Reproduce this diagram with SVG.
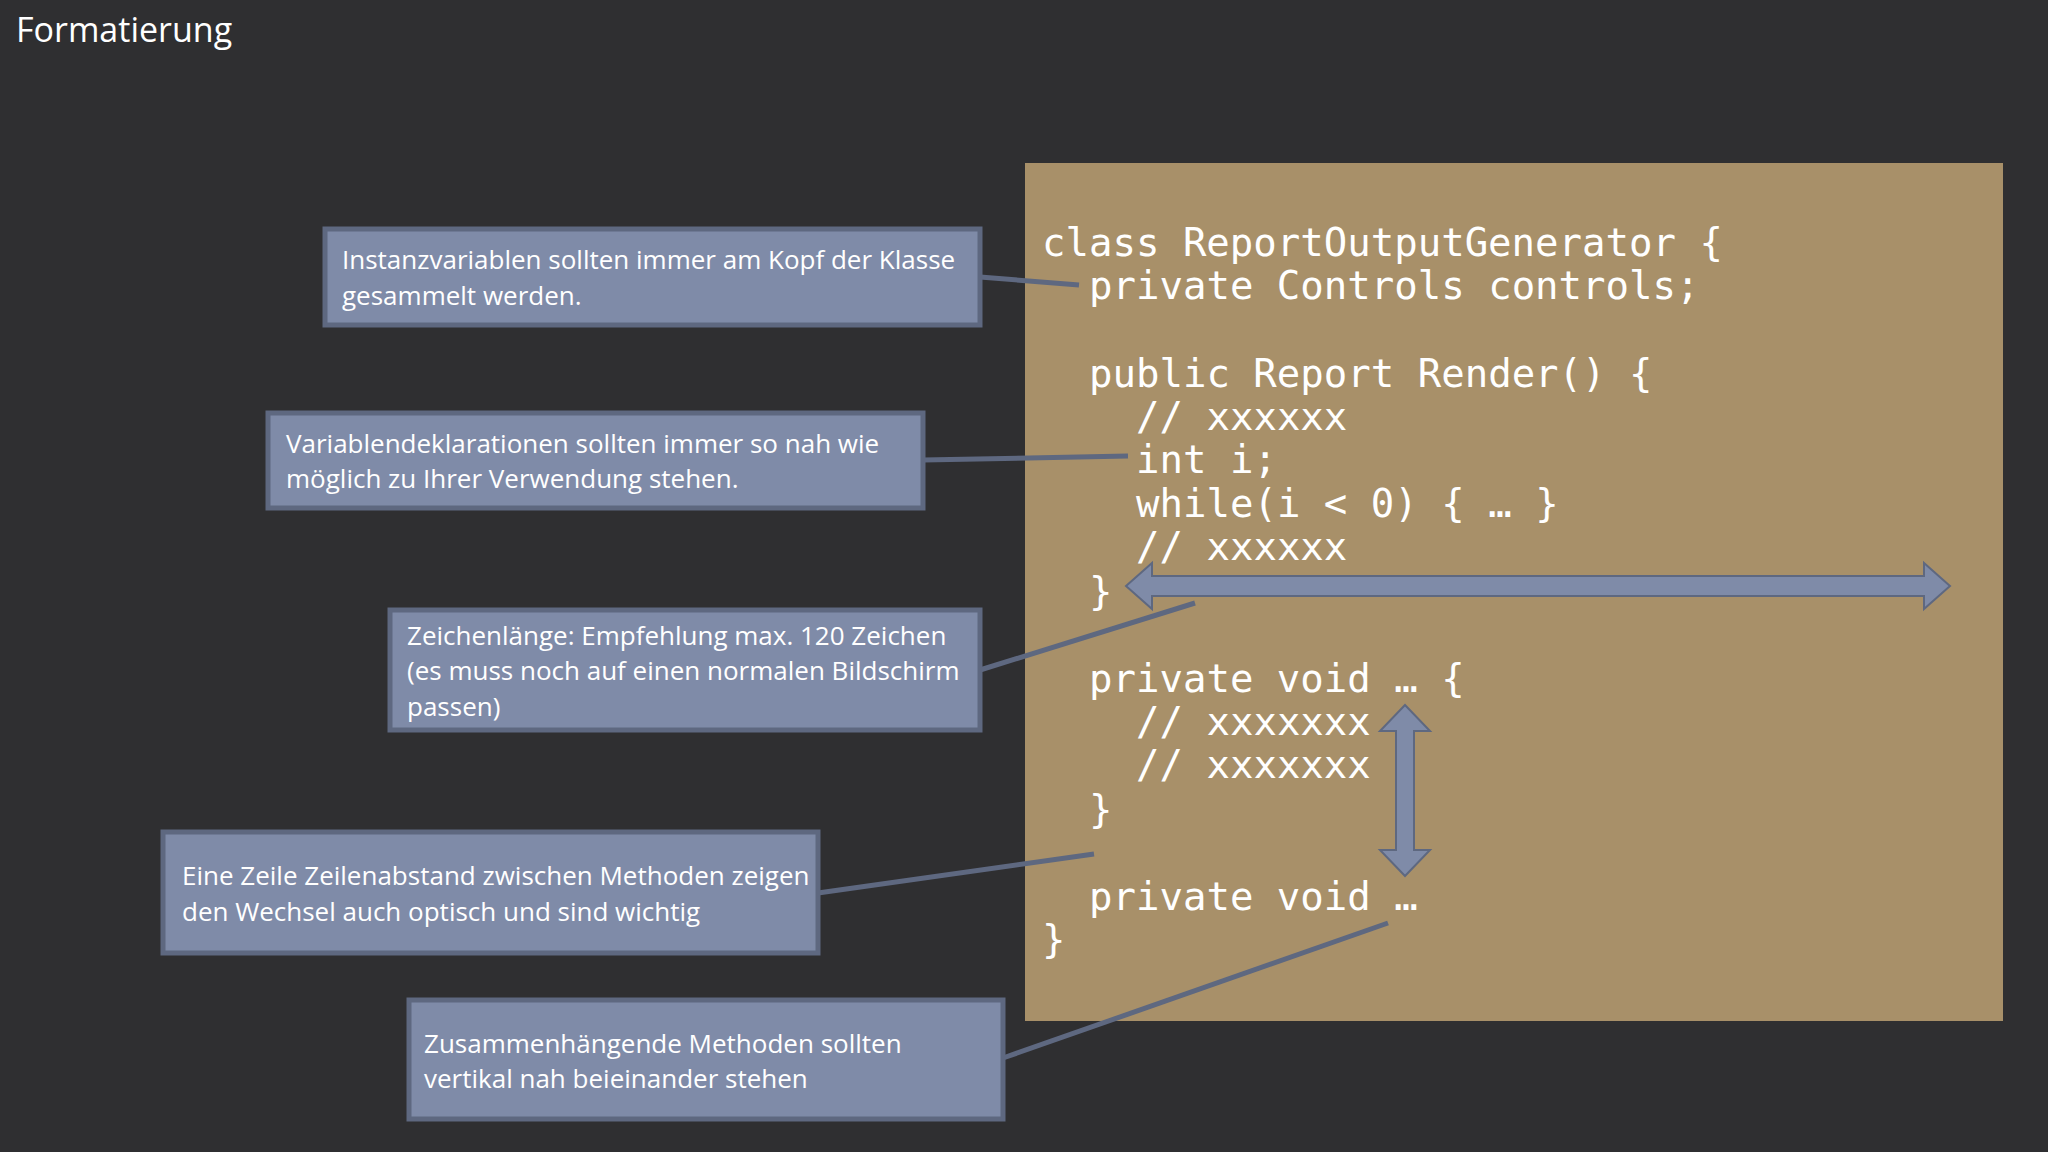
<svg xmlns="http://www.w3.org/2000/svg" width="2048" height="1152" viewBox="0 0 2048 1152">
<style>
.box{fill:#7F8BA8;stroke:#5E6880;stroke-width:5}
.t{font-family:"Open Sans","Liberation Sans",sans-serif;font-size:26px;fill:#fff}
.c{font-family:"DejaVu Sans Mono","Liberation Mono",monospace;font-size:39px;fill:#fff}
.ln{stroke:#5E6880;stroke-width:5;fill:none}
.ar{fill:#7F8BA8;stroke:#5E6880;stroke-width:2}
</style>
<rect width="2048" height="1152" fill="#2F2F31"/>
<text x="16" y="42" font-family="'Open Sans','Liberation Sans',sans-serif" font-size="34" fill="#fff">Formatierung</text>
<g id="code">
<rect x="1025" y="163" width="978" height="858" fill="#A89069"/>
<text class="c" x="1042" y="256">class ReportOutputGenerator {</text>
<text class="c" x="1089" y="299">private Controls controls;</text>
<text class="c" x="1089" y="387">public Report Render() {</text>
<text class="c" x="1136" y="430">// xxxxxx</text>
<text class="c" x="1136" y="473">int i;</text>
<text class="c" x="1136" y="517">while(i &lt; 0) { … }</text>
<text class="c" x="1136" y="560">// xxxxxx</text>
<text class="c" x="1089" y="605">}</text>
<text class="c" x="1089" y="692">private void … {</text>
<text class="c" x="1136" y="735">// xxxxxxx</text>
<text class="c" x="1136" y="778">// xxxxxxx</text>
<text class="c" x="1089" y="823">}</text>
<text class="c" x="1089" y="910">private void …</text>
<text class="c" x="1042" y="953">}</text>
</g>
<g id="connectors">
<line class="ln" x1="980" y1="277" x2="1079" y2="285"/>
<line class="ln" x1="923" y1="460" x2="1128" y2="456"/>
<line class="ln" x1="980" y1="670" x2="1195" y2="603"/>
<line class="ln" x1="818" y1="893" x2="1094" y2="854"/>
<line class="ln" x1="1003" y1="1058" x2="1388" y2="923"/>
<path class="ar" d="M1126,586 L1152,563 L1152,576 L1924,576 L1924,563 L1950,586 L1924,609 L1924,596 L1152,596 L1152,609 Z"/>
<path class="ar" d="M1405,705 L1430,731 L1414,731 L1414,850 L1430,850 L1405,876 L1380,850 L1396,850 L1396,731 L1380,731 Z"/>
</g>
<g id="n1"><rect class="box" x="325" y="229" width="655" height="96"/>
<text class="t" x="342" y="269">Instanzvariablen sollten immer am Kopf der Klasse</text>
<text class="t" x="342" y="305">gesammelt werden.</text></g>
<g id="n2"><rect class="box" x="268" y="413" width="655" height="95"/>
<text class="t" x="286" y="453">Variablendeklarationen sollten immer so nah wie</text>
<text class="t" x="286" y="488">möglich zu Ihrer Verwendung stehen.</text></g>
<g id="n3"><rect class="box" x="390" y="610" width="590" height="120"/>
<text class="t" x="407" y="645">Zeichenlänge: Empfehlung max. 120 Zeichen</text>
<text class="t" x="407" y="680">(es muss noch auf einen normalen Bildschirm</text>
<text class="t" x="407" y="716">passen)</text></g>
<g id="n4"><rect class="box" x="163" y="832" width="655" height="121"/>
<text class="t" x="182" y="885">Eine Zeile Zeilenabstand zwischen Methoden zeigen</text>
<text class="t" x="182" y="921">den Wechsel auch optisch und sind wichtig</text></g>
<g id="n5"><rect class="box" x="409" y="1000" width="594" height="119"/>
<text class="t" x="424" y="1053">Zusammenhängende Methoden sollten</text>
<text class="t" x="424" y="1088">vertikal nah beieinander stehen</text></g>
</svg>
